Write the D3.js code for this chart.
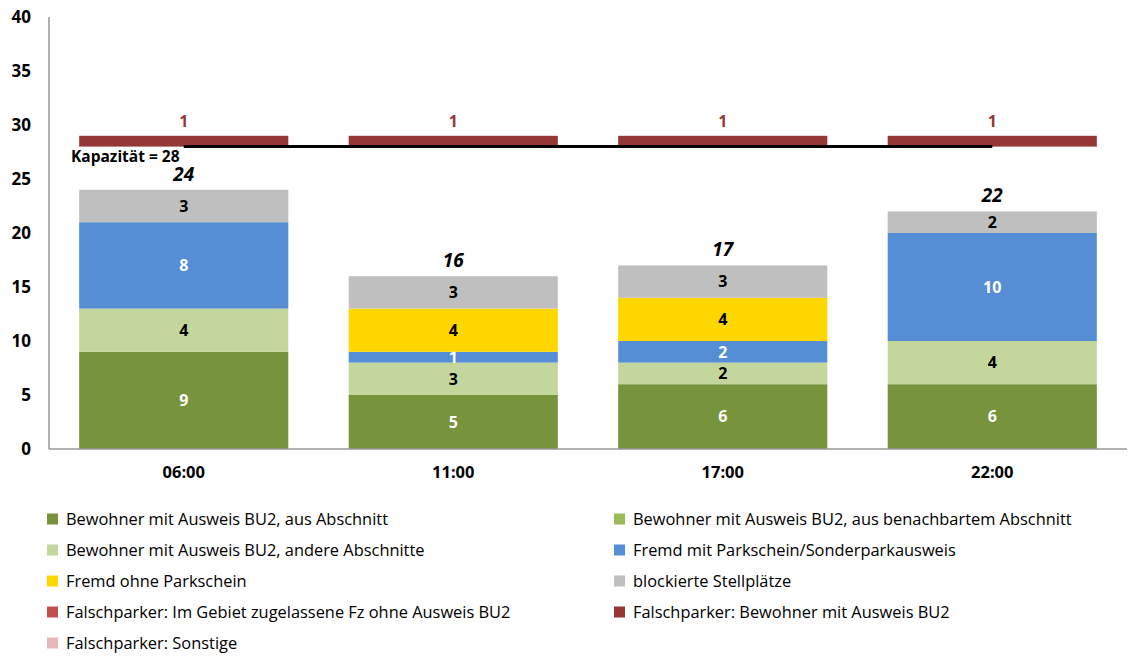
<!DOCTYPE html>
<html><head><meta charset="utf-8">
<script src="https://cdn.jsdelivr.net/npm/d3@7"></script>
<style>body{margin:0;background:#fff}svg{display:block}text{font-family:"Open Sans",sans-serif}</style>
</head><body><svg id="c" width="1129" height="657"></svg>
<script>
const categories = ["06:00","11:00","17:00","22:00"];
const ausAbschnitt = [9,5,6,6];
const benachbart = [0,0,0,0];
const andere = [4,3,2,4];
const fremdMit = [8,1,2,10];
const fremdOhne = [0,4,4,0];
const blockiert = [3,3,3,2];
const falschGebiet = [0,0,0,0];
const falschBewohner = [1,1,1,1];
const falschSonstige = [0,0,0,0];
const totals = [24,16,17,22];
const capacity = 28;
const yTicks = [0,5,10,15,20,25,30,35,40];

const series = [
  {name:"Bewohner mit Ausweis BU2, aus Abschnitt", values:ausAbschnitt, color:"#77933C", text:"#fff"},
  {name:"Bewohner mit Ausweis BU2, aus benachbartem Abschnitt", values:benachbart, color:"#9BBB59", text:"#000"},
  {name:"Bewohner mit Ausweis BU2, andere Abschnitte", values:andere, color:"#C3D69B", text:"#000"},
  {name:"Fremd mit Parkschein/Sonderparkausweis", values:fremdMit, color:"#558ED5", text:"#fff"},
  {name:"Fremd ohne Parkschein", values:fremdOhne, color:"#FFD700", text:"#000"},
  {name:"blockierte Stellplätze", values:blockiert, color:"#BFBFBF", text:"#000"},
  {name:"Falschparker: Im Gebiet zugelassene Fz ohne Ausweis BU2", values:falschGebiet, color:"#C0504D", text:"#000"},
  {name:"Falschparker: Bewohner mit Ausweis BU2", values:falschBewohner, color:"#953735", text:"#953735", atCap:true},
  {name:"Falschparker: Sonstige", values:falschSonstige, color:"#E6B9B8", text:"#000"}
];

const svg = d3.select("#c");
const x = d3.scaleBand().domain(categories).range([49,1127]).paddingInner(0.224).paddingOuter(0.112);
const y = d3.scaleLinear().domain([0,40]).range([449,17]);

svg.append("line").attr("x1",49).attr("x2",49).attr("y1",y(40)).attr("y2",y(0)).attr("stroke","#999").attr("stroke-width",1.5);

svg.append("g").selectAll("text").data(yTicks).join("text")
  .attr("x",31).attr("y",d=>y(d)).attr("dy","0.35em").attr("text-anchor","end")
  .attr("font-size",17).attr("font-weight","bold").attr("fill","#000").text(d=>d);

const stackOrder = series.filter(s=>!s.atCap);
categories.forEach((c,i)=>{
  let base = 0;
  stackOrder.forEach(s=>{
    const v = s.values[i];
    if(v>0){
      svg.append("rect").attr("x",x(c)).attr("width",x.bandwidth())
        .attr("y",y(base+v)).attr("height",y(base)-y(base+v)).attr("fill",s.color);
      svg.append("text").attr("x",x(c)+x.bandwidth()/2).attr("y",(y(base)+y(base+v))/2).attr("dy","0.36em")
        .attr("text-anchor","middle").attr("font-size",16).attr("font-weight","bold").attr("fill",s.text).text(v);
    }
    base += v;
  });
  svg.append("text").attr("x",x(c)+x.bandwidth()/2).attr("y",y(totals[i])-9)
    .attr("text-anchor","middle").attr("font-size",19).attr("font-weight","bold").attr("font-style","italic").attr("fill","#000").text(totals[i]);
});

series.filter(s=>s.atCap).forEach(s=>{
  categories.forEach((c,i)=>{
    const v = s.values[i];
    svg.append("rect").attr("x",x(c)).attr("width",x.bandwidth())
      .attr("y",y(capacity+v)).attr("height",y(capacity)-y(capacity+v)).attr("fill",s.color);
    svg.append("text").attr("x",x(c)+x.bandwidth()/2).attr("y",y(capacity+v)-9)
      .attr("text-anchor","middle").attr("font-size",16).attr("font-weight","bold").attr("fill",s.text).text(v);
  });
});

svg.append("line").attr("x1",x(categories[0])+x.bandwidth()/2).attr("x2",x(categories[3])+x.bandwidth()/2)
  .attr("y1",y(capacity)).attr("y2",y(capacity)).attr("stroke","#000").attr("stroke-width",3);
svg.append("text").attr("x",71).attr("y",y(capacity)+15).attr("font-size",15.5).attr("font-weight","bold").attr("fill","#000").text("Kapazität = "+capacity);

svg.append("line").attr("x1",49).attr("x2",1127).attr("y1",y(0)).attr("y2",y(0)).attr("stroke","#999").attr("stroke-width",1.5);
svg.append("g").selectAll("text").data(categories).join("text")
  .attr("x",d=>x(d)+x.bandwidth()/2).attr("y",478).attr("text-anchor","middle")
  .attr("font-size",16.5).attr("font-weight","bold").attr("fill","#000").text(d=>d);

const leg = svg.append("g");
series.forEach((s,i)=>{
  const col = i%2, row = Math.floor(i/2);
  const lx = col===0 ? 47 : 614;
  const ly = 519 + row*31;
  leg.append("rect").attr("x",lx).attr("y",ly-5.5).attr("width",11).attr("height",11).attr("fill",s.color);
  leg.append("text").attr("x",lx+19).attr("y",ly).attr("dy","0.35em").attr("font-size",16.4).attr("fill","#000").text(s.name);
});
</script></body></html>
